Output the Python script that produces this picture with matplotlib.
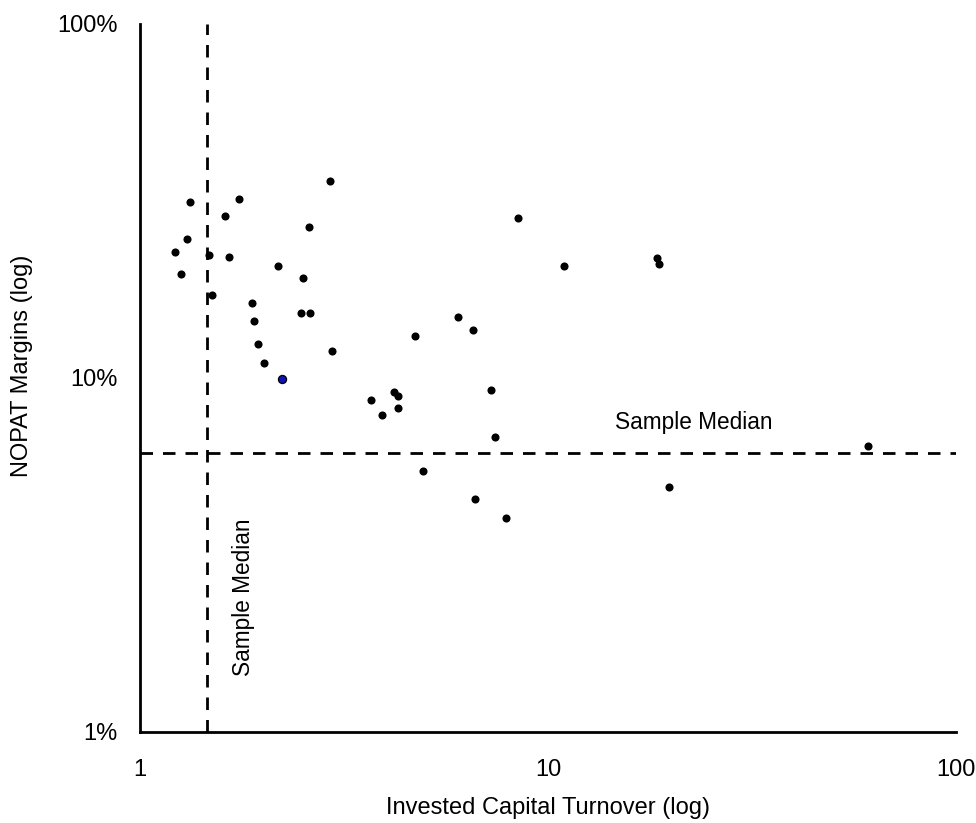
import matplotlib
matplotlib.use("Agg")
import matplotlib.pyplot as plt
from matplotlib.ticker import FixedLocator, NullLocator, FixedFormatter

plt.rcParams["font.family"] = ["Liberation Sans", "DejaVu Sans"]

# invested capital turnover (x) and NOPAT margin in % (y)
turnover = [1.218, 1.260, 1.304, 1.326, 1.476, 1.499, 1.619, 1.652, 1.748,
            1.884, 1.906, 1.950, 2.013, 2.175, 2.505, 2.592, 2.477,
            2.615, 2.922, 2.955, 3.676, 3.926, 4.194, 4.290, 4.282, 4.729,
            4.939, 6.019, 6.560, 7.237, 7.402, 6.634, 7.903, 8.444, 10.96,
            18.53, 18.74, 19.80, 60.96]
margin = [22.65, 19.67, 24.70, 31.35, 22.30, 17.13, 28.74, 22.01, 32.10,
          16.29, 14.52, 12.50, 11.03, 20.72, 19.16, 26.66, 15.26,
          15.26, 36.02, 11.90, 8.67, 7.85, 9.13, 8.90, 8.25, 13.14,
          5.46, 14.90, 13.64, 9.25, 6.83, 4.56, 4.02, 28.37, 20.69,
          21.78, 20.95, 4.91, 6.43]
# the single highlighted company
hl_turnover = [2.225]
hl_margin = [9.95]

median_turnover = 1.459
median_margin = 6.14

x_ticks = [1, 10, 100]
x_labels = ["1", "10", "100"]
y_ticks = [1, 10, 100]
y_labels = ["1%", "10%", "100%"]

fig = plt.figure(figsize=(9.76, 8.23), dpi=100)
ax = fig.add_axes([140 / 976, 91 / 823, 816 / 976, 708 / 823])

ax.set_xscale("log")
ax.set_yscale("log")
ax.set_xlim(1, 100)
ax.set_ylim(1, 100)

ax.scatter(turnover, margin, s=34, color="black", zorder=3, linewidths=0)
ax.scatter(hl_turnover, hl_margin, s=34, color="#1010c0", edgecolors="black",
           linewidths=0.9, zorder=3)

ax.axvline(median_turnover, color="black", linewidth=2, dashes=(4.5, 3.6))
ax.axhline(median_margin, color="black", linewidth=2, dashes=(4.5, 3.6))

ax.text(14.6, 7.5, "Sample Median", fontsize=16.3, va="center", ha="left")
ax.text(1.79, 2.41, "Sample Median", fontsize=16.3, va="center", ha="center",
        rotation=90)

# axes look: only left and bottom spines, no tick marks
for side in ["top", "right"]:
    ax.spines[side].set_visible(False)
for side in ["left", "bottom"]:
    ax.spines[side].set_linewidth(2)
ax.xaxis.set_major_locator(FixedLocator(x_ticks))
ax.xaxis.set_major_formatter(FixedFormatter(x_labels))
ax.yaxis.set_major_locator(FixedLocator(y_ticks))
ax.yaxis.set_major_formatter(FixedFormatter(y_labels))
ax.xaxis.set_minor_locator(NullLocator())
ax.yaxis.set_minor_locator(NullLocator())
ax.tick_params(axis="x", length=0, pad=19.5, labelsize=17)
ax.tick_params(axis="y", length=0, pad=16, labelsize=17)

ax.set_xlabel("Invested Capital Turnover (log)", fontsize=17)
ax.set_ylabel("NOPAT Margins (log)", fontsize=17)
ax.xaxis.set_label_coords(0.5, -0.092)
ax.yaxis.set_label_coords(-0.131, 0.517)

fig.savefig("out.png", dpi=100)
